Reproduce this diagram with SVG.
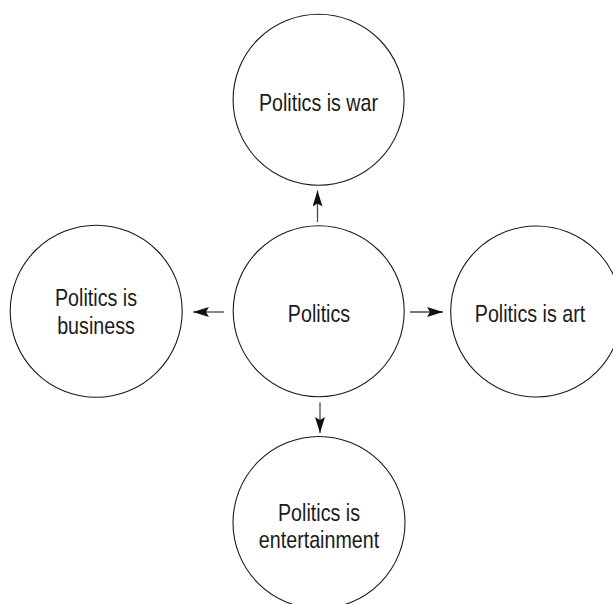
<svg xmlns="http://www.w3.org/2000/svg" width="613" height="604" viewBox="0 0 613 604">
  <style>
    .node circle { fill: #ffffff; stroke: #1a1a1a; stroke-width: 1.1; }
    .node text { font-family: "Liberation Sans", Arial, sans-serif; font-size: 24px; fill: #1a1a1a; text-anchor: middle; }
    .link { stroke: #4a4a4a; stroke-width: 1.3; fill: none; marker-end: url(#head); }
  </style>
  <defs>
    <marker id="head" viewBox="0 0 16 10" refX="16" refY="5" markerWidth="16" markerHeight="10" markerUnits="userSpaceOnUse" orient="auto">
      <path d="M0,0 L16,5 L0,10 L3,5 Z" fill="#111111"/>
    </marker>
  </defs>
  <rect width="613" height="604" fill="#ffffff"/>

  <!-- connectors radiating from the central node -->
  <g id="connectors">
    <line class="link" x1="317.5" y1="222" x2="317.5" y2="190.5"/>
    <line class="link" x1="224" y1="312" x2="193" y2="312"/>
    <line class="link" x1="410" y1="312" x2="443" y2="312"/>
    <line class="link" x1="320" y1="402.5" x2="320" y2="433"/>
  </g>

  <g id="node-politics" class="node">
    <circle cx="318.7" cy="311.2" r="85.5"/>
    <text transform="translate(319,322.3) scale(0.82,1)">Politics</text>
  </g>

  <g id="node-war" class="node">
    <circle cx="318.6" cy="99.7" r="85.5"/>
    <text transform="translate(318.5,110.5) scale(0.82,1)">Politics is war</text>
  </g>

  <g id="node-business" class="node">
    <circle cx="96.2" cy="311.3" r="86"/>
    <text transform="translate(96,306) scale(0.82,1)">Politics is</text>
    <text transform="translate(96,333.7) scale(0.82,1)">business</text>
  </g>

  <g id="node-art" class="node">
    <circle cx="536.2" cy="311.5" r="85.5"/>
    <text transform="translate(530,322.3) scale(0.82,1)">Politics is art</text>
  </g>

  <g id="node-entertainment" class="node">
    <circle cx="319" cy="522.5" r="86"/>
    <text transform="translate(319,520.7) scale(0.82,1)">Politics is</text>
    <text transform="translate(319,548.3) scale(0.82,1)">entertainment</text>
  </g>
</svg>
